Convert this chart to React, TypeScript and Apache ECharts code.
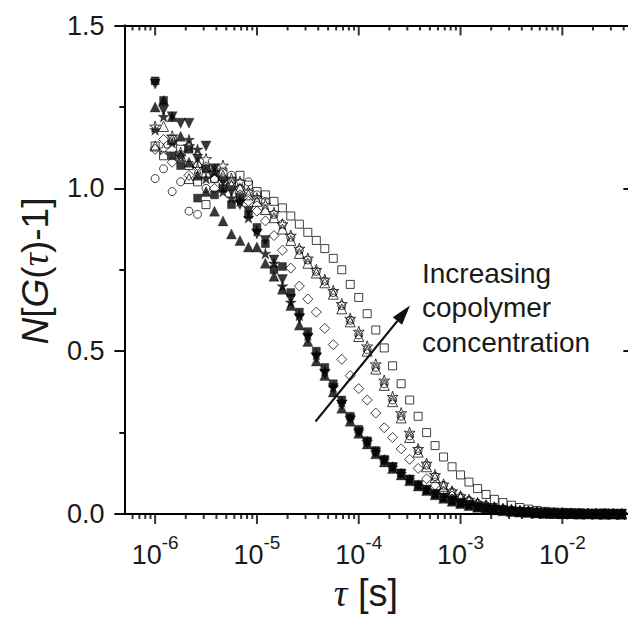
import React, { useEffect, useRef } from 'react';
import * as echarts from 'echarts';

// Lag times tau [s], 12 per decade
const lagTimes = [
  1.00e-6, 1.21e-6, 1.47e-6, 1.78e-6, 2.15e-6, 2.61e-6, 3.16e-6, 3.83e-6, 4.64e-6, 5.62e-6, 6.81e-6, 8.25e-6,
  1.00e-5, 1.21e-5, 1.47e-5, 1.78e-5, 2.15e-5, 2.61e-5, 3.16e-5, 3.83e-5, 4.64e-5, 5.62e-5, 6.81e-5, 8.25e-5,
  1.00e-4, 1.21e-4, 1.47e-4, 1.78e-4, 2.15e-4, 2.61e-4, 3.16e-4, 3.83e-4, 4.64e-4, 5.62e-4, 6.81e-4, 8.25e-4,
  1.00e-3, 1.21e-3, 1.47e-3, 1.78e-3, 2.15e-3, 2.61e-3, 3.16e-3, 3.83e-3, 4.64e-3, 5.62e-3, 6.81e-3, 8.25e-3,
  1.00e-2, 1.21e-2, 1.47e-2, 1.78e-2, 2.15e-2, 2.61e-2, 3.16e-2, 3.83e-2,
];

const filledSquare = [
  1.33, 1.27, 1.10, 1.07, 1.12, 0.97, 1.06, 0.98, 1.00, 0.95, 0.97, 0.92,
  0.88, 0.83, 0.75, 0.76, 0.68, 0.62, 0.56, 0.50, 0.45, 0.40, 0.35, 0.30,
  0.26, 0.225, 0.195, 0.168, 0.146, 0.126, 0.107, 0.09, 0.075, 0.062, 0.051, 0.042,
  0.034, 0.028, 0.022, 0.018, 0.014, 0.011, 0.009, 0.007, 0.005, 0.004, 0.003, 0.002,
  0.002, 0.001, 0.001, 0.0, 0.001, 0.0, 0.0, 0.0,
];
const filledDown = [
  1.32, 1.24, 1.22, 1.20, 1.20, 1.09, 1.13, 1.06, 1.02, 0.99, 0.95, 0.93,
  0.86, 0.84, 0.78, 0.72, 0.66, 0.60, 0.54, 0.48, 0.43, 0.385, 0.335, 0.29,
  0.25, 0.218, 0.188, 0.163, 0.142, 0.122, 0.104, 0.087, 0.073, 0.06, 0.049, 0.04,
  0.033, 0.027, 0.021, 0.017, 0.013, 0.011, 0.008, 0.006, 0.005, 0.004, 0.003, 0.002,
  0.001, 0.001, 0.001, 0.0, 0.0, 0.001, 0.0, 0.0,
];
const filledUp = [
  1.25, 1.27, 1.22, 1.16, 1.08, 1.04, 0.99, 0.93, 0.90, 0.86, 0.84, 0.82,
  0.82, 0.77, 0.73, 0.69, 0.64, 0.58, 0.53, 0.47, 0.425, 0.375, 0.325, 0.285,
  0.248, 0.215, 0.185, 0.16, 0.14, 0.12, 0.102, 0.086, 0.072, 0.059, 0.048, 0.039,
  0.032, 0.026, 0.021, 0.017, 0.013, 0.01, 0.008, 0.006, 0.005, 0.003, 0.002, 0.002,
  0.001, 0.001, 0.0, 0.001, 0.0, 0.0, 0.0, 0.0,
];
const filledStar = [
  1.18, 1.22, 1.14, 1.10, 1.15, 1.12, 1.03, 1.05, 0.99, 0.97, 0.96, 0.91,
  0.87, 0.80, 0.77, 0.70, 0.65, 0.61, 0.55, 0.49, 0.44, 0.39, 0.345, 0.295,
  0.255, 0.222, 0.19, 0.166, 0.144, 0.124, 0.105, 0.088, 0.074, 0.061, 0.05, 0.041,
  0.033, 0.027, 0.022, 0.018, 0.014, 0.011, 0.008, 0.0065, 0.005, 0.004, 0.003, 0.002,
  0.002, 0.001, 0.001, 0.001, 0.0, 0.0, 0.001, 0.0,
];
const openDiamond = [
  1.12, 1.15, 1.08, 1.10, 1.04, 1.07, 1.06, 1.00, 1.03, 1.02, 0.98, 0.96,
  0.93, 0.90, 0.855, 0.81, 0.755, 0.70, 0.66, 0.62, 0.57, 0.52, 0.475, 0.425,
  0.385, 0.35, 0.31, 0.265, 0.235, 0.20, 0.168, 0.14, 0.108, 0.088, 0.07, 0.055,
  0.047, 0.039, 0.031, 0.025, 0.02, 0.016, 0.012, 0.009, 0.007, 0.005, 0.004, 0.003,
  0.002, 0.002, 0.001, 0.001, 0.001, 0.0, 0.0, 0.001,
];
const openCircle = [
  1.03, 1.06, 0.99, 1.02, 0.93, 0.92, 1.00, 1.03, 1.01, 1.04, 1.00, 1.02,
  0.98, 0.96, 0.92, 0.89, 0.85, 0.81, 0.78, 0.745, 0.715, 0.68, 0.64, 0.595,
  0.55, 0.505, 0.45, 0.40, 0.35, 0.30, 0.24, 0.195, 0.15, 0.115, 0.088, 0.068,
  0.053, 0.042, 0.033, 0.026, 0.02, 0.015, 0.012, 0.009, 0.007, 0.005, 0.004, 0.003,
  0.002, 0.002, 0.001, 0.001, 0.0, 0.001, 0.0, 0.0,
];
const openUp = [
  1.13, 1.19, 1.15, 1.10, 1.03, 1.08, 1.05, 1.06, 1.04, 1.01, 1.00, 0.98,
  0.96, 0.935, 0.91, 0.875, 0.84, 0.80, 0.77, 0.74, 0.71, 0.675, 0.63, 0.59,
  0.545, 0.50, 0.445, 0.395, 0.345, 0.295, 0.235, 0.19, 0.145, 0.112, 0.085, 0.066,
  0.052, 0.041, 0.032, 0.025, 0.019, 0.015, 0.012, 0.009, 0.007, 0.005, 0.004, 0.003,
  0.002, 0.002, 0.001, 0.001, 0.001, 0.0, 0.001, 0.0,
];
const openStar = [
  1.19, 1.12, 1.16, 1.11, 1.13, 1.06, 1.09, 1.05, 1.07, 1.03, 1.02, 0.99,
  0.97, 0.95, 0.925, 0.89, 0.855, 0.815, 0.785, 0.75, 0.72, 0.685, 0.645, 0.60,
  0.56, 0.515, 0.46, 0.41, 0.36, 0.31, 0.25, 0.20, 0.155, 0.12, 0.091, 0.07,
  0.055, 0.044, 0.034, 0.027, 0.021, 0.016, 0.013, 0.01, 0.008, 0.006, 0.004, 0.003,
  0.003, 0.002, 0.001, 0.001, 0.001, 0.001, 0.0, 0.0,
];
const openSquare = [
  1.13, 1.10, 1.15, 1.12, 1.07, 1.02, 0.95, 1.03, 1.05, 1.02, 1.04, 1.01,
  0.99, 0.98, 0.96, 0.94, 0.915, 0.89, 0.865, 0.84, 0.815, 0.785, 0.75, 0.705,
  0.665, 0.615, 0.565, 0.51, 0.455, 0.40, 0.35, 0.30, 0.25, 0.21, 0.175, 0.145,
  0.12, 0.098, 0.078, 0.06, 0.045, 0.035, 0.027, 0.02, 0.015, 0.011, 0.008, 0.006,
  0.005, 0.004, 0.003, 0.002, 0.002, 0.001, 0.001, 0.001,
];

const yTickLabels = ['0.0', '0.5', '1.0', '1.5'];
const xDecades = [1e-6, 1e-5, 1e-4, 1e-3, 1e-2];

const SANS = '"Liberation Sans", Arial, Helvetica, sans-serif';
const SERIF = '"Liberation Serif", "Times New Roman", serif';
const INK = '#000';
const TXT = '#1a1a1a';
const TICK_INK = '#000';

const DOWN_TRI = 'path://M0,0L10,0L5,9Z';
const STAR = 'path://M50,0L61.8,36.2L100,36.2L69.1,58.8L80.9,95.1L50,72.7L19.1,95.1L30.9,58.8L0,36.2L38.2,36.2Z';

const GRID = { left: 124.5, right: -5.5, top: 25.5, bottom: 103, outerBoundsMode: 'none', containLabel: false };
const axisLine = { show: true, onZero: false, lineStyle: { color: INK, width: 1.8 } };
const tickStyle = { color: INK, width: 1.5 };

const fmtX = (v: number) => {
  const e = Math.log10(v);
  const r = Math.round(e);
  if (Math.abs(e - r) > 1e-6) return '';
  if (!xDecades.some((d) => Math.abs(Math.log10(d) - r) < 1e-6)) return '';
  return `{b|10}{s|${r}}`;
};

const logAxis = (position: string, labels: boolean) => ({
  type: 'log', logBase: 10, min: 5e-7, max: 5e-2, position,
  axisLine, axisTick: { show: false }, minorTick: { show: false }, splitLine: { show: false },
  axisLabel: labels
    ? {
        margin: 19, formatter: fmtX,
        rich: {
          b: { fontSize: 27, fontFamily: SANS, color: TXT },
          s: { fontSize: 19, fontFamily: SANS, color: TXT, padding: [0, 0, 24, 0] },
        },
      }
    : { show: false },
});

const valAxis = (position: string, labels: boolean) => ({
  type: 'value', min: 0, max: 1.5, interval: 0.5, position,
  axisLine,
  axisTick: { show: true, inside: position === 'right', length: 10, lineStyle: tickStyle },
  minorTick: { show: true, splitNumber: 2, length: 5, lineStyle: tickStyle },
  splitLine: { show: false },
  axisLabel: labels
    ? {
        margin: 20, fontSize: 27, fontFamily: SANS, color: TXT,
        formatter: (v: number) => yTickLabels[Math.round(v / 0.5)] ?? '',
      }
    : { show: false },
});

function MainChart() {
  const ref = useRef<HTMLDivElement>(null);
  useEffect(() => {
    if (!ref.current) return;
    const chart = echarts.init(ref.current, null, { renderer: 'svg' });
    const mk = (ys: number[]) => lagTimes.map((t, i) => [t, ys[i]]);
    const filled = (name: string, ys: number[], symbol: string, size: number) => ({
      name, type: 'scatter', data: mk(ys), symbol, symbolSize: size, clip: false,
      itemStyle: { color: '#050505', borderColor: '#050505', borderWidth: 0.4 },
    });
    const open = (name: string, ys: number[], symbol: string, size: number) => ({
      name, type: 'scatter', data: mk(ys), symbol, symbolSize: size, clip: false,
      itemStyle: { color: 'rgba(255,255,255,0)', borderColor: '#111', borderWidth: 1 },
    });
    chart.setOption({
      animation: false,
      backgroundColor: '#fff',
      grid: GRID,
      xAxis: [logAxis('bottom', true), logAxis('top', false)],
      yAxis: [valAxis('left', true), valAxis('right', false)],
      series: [
        open('openSquare', openSquare, 'rect', 8),
        open('openStar', openStar, STAR, 11),
        open('openUp', openUp, 'triangle', 10),
        open('openCircle', openCircle, 'circle', 8),
        open('openDiamond', openDiamond, 'diamond', 10),
        filled('filledStar', filledStar, STAR, 11),
        filled('filledUp', filledUp, 'triangle', 10),
        filled('filledDown', filledDown, DOWN_TRI, 10),
        filled('filledSquare', filledSquare, 'rect', 8),
      ],
      graphic: [
        {
          type: 'text', x: 35, y: 271, rotation: Math.PI / 2,
          style: {
            text: '{i|N}{r|[}{i|G}{r|(}{t|τ}{r|)-1]}',
            align: 'center', verticalAlign: 'middle',
            rich: {
              i: { fontSize: 37, fontFamily: SANS, fontStyle: 'italic', fill: TXT, color: TXT },
              r: { fontSize: 37, fontFamily: SANS, fill: TXT, color: TXT },
              t: { fontSize: 37, fontFamily: SERIF, fontStyle: 'italic', fill: TXT, color: TXT },
            },
          },
        },
        {
          type: 'text', x: 366, y: 593,
          style: {
            text: '{t|τ}{r| [s]}',
            align: 'center', verticalAlign: 'middle',
            rich: {
              r: { fontSize: 38, fontFamily: SANS, fill: TXT, color: TXT },
              t: { fontSize: 38, fontFamily: SERIF, fontStyle: 'italic', fill: TXT, color: TXT },
            },
          },
        },
        {
          type: 'text', x: 422, y: 256,
          style: {
            text: 'Increasing\ncopolymer\nconcentration',
            align: 'left', verticalAlign: 'top', lineHeight: 34.5,
            fontSize: 28, fontFamily: SANS, fill: TXT,
          },
        },
        {
          type: 'line',
          shape: { x1: 315.5, y1: 421.5, x2: 397.4, y2: 321 },
          style: { stroke: '#111', lineWidth: 2 },
        },
        {
          type: 'polygon',
          shape: { points: [[410, 305.5], [402.05, 324.8], [392.75, 317.2]] },
          style: { fill: '#111' },
        },
      ],
    });
    return () => chart.dispose();
  }, []);
  return <div ref={ref} style={{ position: 'absolute', left: 0, top: 0, width: 628, height: 617 }} />;
}

// Overlay with the log-axis tick marks, on the same grid and scales
function TickOverlay() {
  const ref = useRef<HTMLDivElement>(null);
  useEffect(() => {
    if (!ref.current) return;
    const chart = echarts.init(ref.current, null, { renderer: 'svg' });
    const majorX: number[] = [];
    const minorX: number[] = [];
    for (let e = -7; e <= -2; e++) {
      for (let m = 1; m <= 9; m++) {
        const v = m * Math.pow(10, e);
        if (v >= 5.5e-7 && v <= 0.049) (m === 1 ? majorX : minorX).push(v);
      }
    }
    const tickSeries = (vals: number[], y: number, len: number) => ({
      type: 'scatter', clip: false,
      data: vals.map((v) => [v, y]),
      symbol: 'rect', symbolSize: [2, len], symbolOffset: [0, len / 2],
      itemStyle: { color: TICK_INK },
    });
    chart.setOption({
      animation: false,
      grid: GRID,
      xAxis: [logAxis('bottom', false), logAxis('top', false)],
      yAxis: [valAxis('left', false), valAxis('right', false)],
      series: [
        tickSeries(majorX, 0, 10),
        tickSeries(minorX, 0, 5),
        tickSeries(majorX, 1.5, 10),
        tickSeries(minorX, 1.5, 5),
      ],
    });
    return () => chart.dispose();
  }, []);
  return (
    <div
      ref={ref}
      style={{ position: 'absolute', left: 0, top: 0, width: 628, height: 617, pointerEvents: 'none' }}
    />
  );
}

export default function App() {
  useEffect(() => {
    document.body.style.margin = '0';
  }, []);
  return (
    <div style={{ position: 'relative', width: 628, height: 617, overflow: 'hidden' }}>
      <MainChart />
      <TickOverlay />
    </div>
  );
}
